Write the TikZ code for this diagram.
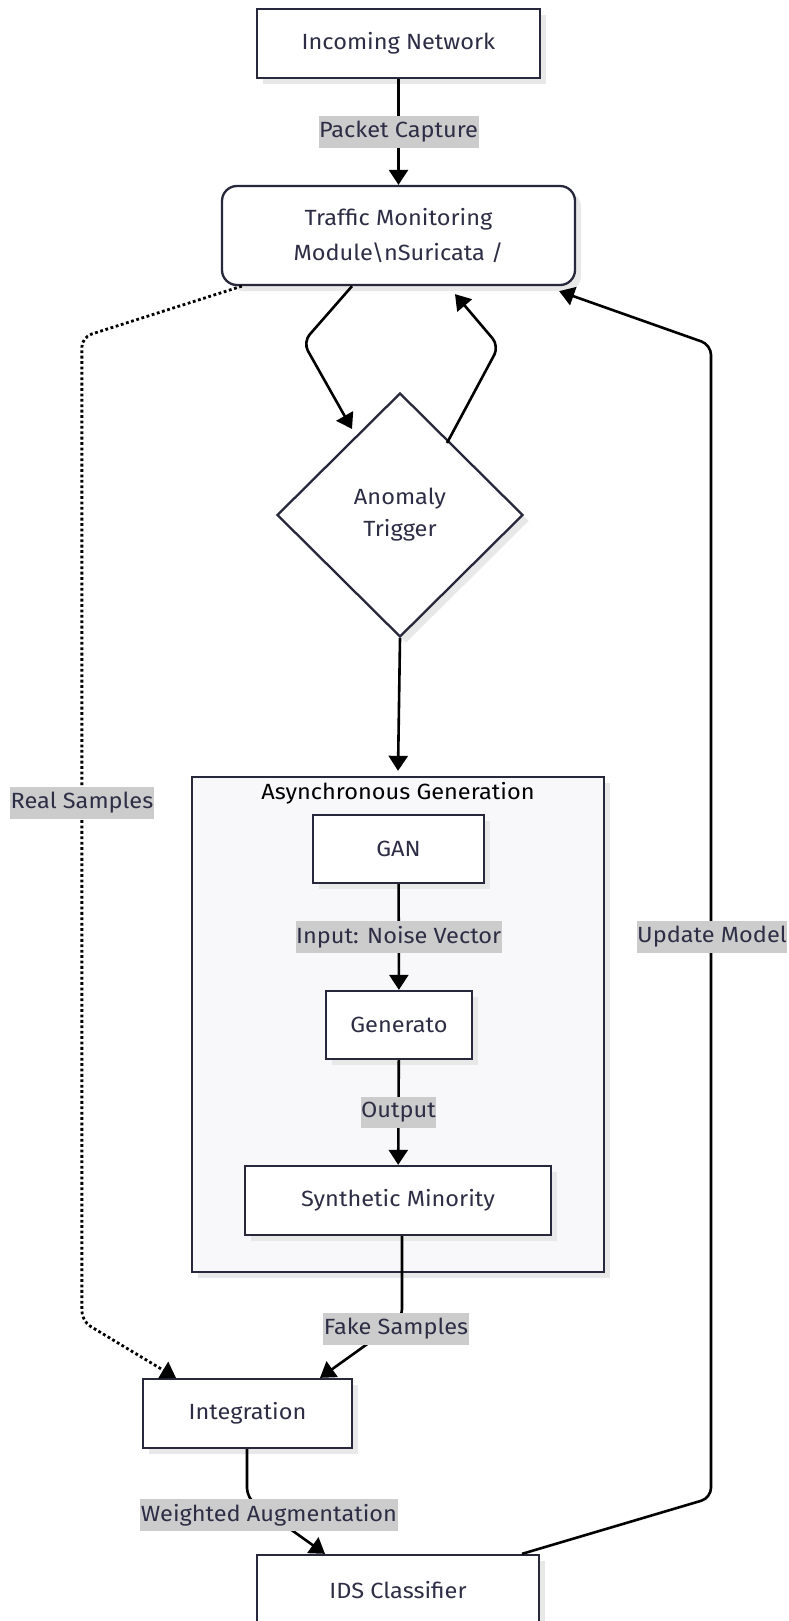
\documentclass[tikz,border=0pt]{standalone}
\usepackage{fontspec}
\setmainfont{Fira Sans}[FakeStretch=1.07]
\usetikzlibrary{shapes.geometric,arrows.meta,calc,shadows}
\definecolor{ink}{RGB}{40,40,60}
\definecolor{txt}{RGB}{45,45,70}
\definecolor{lbl}{RGB}{204,204,204}
\definecolor{clus}{RGB}{248,248,250}
\definecolor{shad}{RGB}{232,232,232}
\tikzset{
  shd/.style={drop shadow={shadow xshift=6pt,shadow yshift=-6pt,fill=shad,opacity=1}},
  box/.style={draw=ink,line width=2.3pt,fill=white,text=txt,font=\fontsize{22}{35}\selectfont,
    align=center,inner sep=0pt,shd},
  diam/.style={box,shape=diamond,minimum width=246pt,minimum height=244pt,font=\fontsize{22}{32}\selectfont},
  conn/.style={draw=black,line width=2.6pt,rounded corners=10pt,-{Triangle[length=15pt,width=19pt]}},
  dotconn/.style={conn,line width=2.8pt,dash pattern=on 2.8pt off 2.6pt},
  elabel/.style={sharp corners,fill=lbl,text=txt,font=\fontsize{22}{26}\selectfont,inner xsep=0.5pt,inner ysep=5pt},
}
\begin{document}
\begin{tikzpicture}[x=1pt,y=-1pt]
\useasboundingbox (0,0) rectangle (788,1621);
\clip (0,0) rectangle (788,1621);
\fill[white] (0,0) rectangle (788,1621);

% cluster
\node[draw=ink,line width=2.3pt,fill=clus,minimum width=412pt,minimum height=495pt,inner sep=0pt,shd] (cl) at (398,1024.5) {};
\node[font=\fontsize{22}{26}\selectfont,text=black] (clt) at (398,793) {Asynchronous Generation};

% nodes
\node[box,minimum width=283pt,minimum height=69pt] (inc) at (398.5,43.5) {Incoming Network};
\node[box,rounded corners=15pt,minimum width=353pt,minimum height=99pt] (tm) at (398.5,235.5) {Traffic Monitoring\\Module\textbackslash nSuricata /};
\node[diam] (dia) at (400,515) {Anomaly\\Trigger};
\node[box,minimum width=171pt,minimum height=68pt] (gan) at (398.5,849) {GAN};
\node[box,minimum width=146pt,minimum height=68pt] (gen) at (399,1025) {Generato};
\node[box,minimum width=306pt,minimum height=69pt] (syn) at (398,1200.5) {Synthetic Minority};
\node[box,minimum width=209pt,minimum height=69pt] (integ) at (247.5,1413.5) {Integration};
\node[box,minimum width=282pt,minimum height=70pt] (ids) at (398,1590) {IDS Classifier};

% connectors
\draw[conn] (inc) -- node[elabel] (lpc) {Packet Capture} (tm);
\draw[conn] ([xshift=-46.5pt]tm.south) -- ++(-49,56) -- ([shift={(-48,-86)}]dia.center);
\draw[conn] ([shift={(47,-72)}]dia.center) -- ++(52,-97) -- ([shift={(56.5,8)}]tm.south);
\draw[conn] (dia.south) -- ([yshift=5pt]cl.north);
\draw[conn] (gan) -- node[elabel] (lnv) {Input: Noise Vector} (gen);
\draw[conn] (gen) -- node[elabel] (lout) {Output} (syn);
\draw[conn] ([xshift=4pt]syn.south) -- ++(0,83) -- ([xshift=72.5pt]integ.north);
\node[elabel] (lfake) at (396,1329) {Fake Samples};
\draw[conn] ([xshift=-0.5pt]integ.south) -- ++(0,49) -- ([xshift=-73pt]ids.north);
\node[elabel] (lwa) at (269,1515) {Weighted Augmentation};
\draw[conn] ([xshift=124pt]ids.north) -- ++(189,-56) -- ++(0,-1153) -- ([shift={(-17,5)}]tm.south east);
\node[elabel] (lum) at (712,937) {Update Model};
\draw[dotconn] ([xshift=21pt]tm.south west) -- ++(-160,51) -- ++(0,984) -- ([xshift=-71.5pt]integ.north);
\node[elabel] (lrs) at (82,803) {Real Samples};
\end{tikzpicture}
\end{document}
